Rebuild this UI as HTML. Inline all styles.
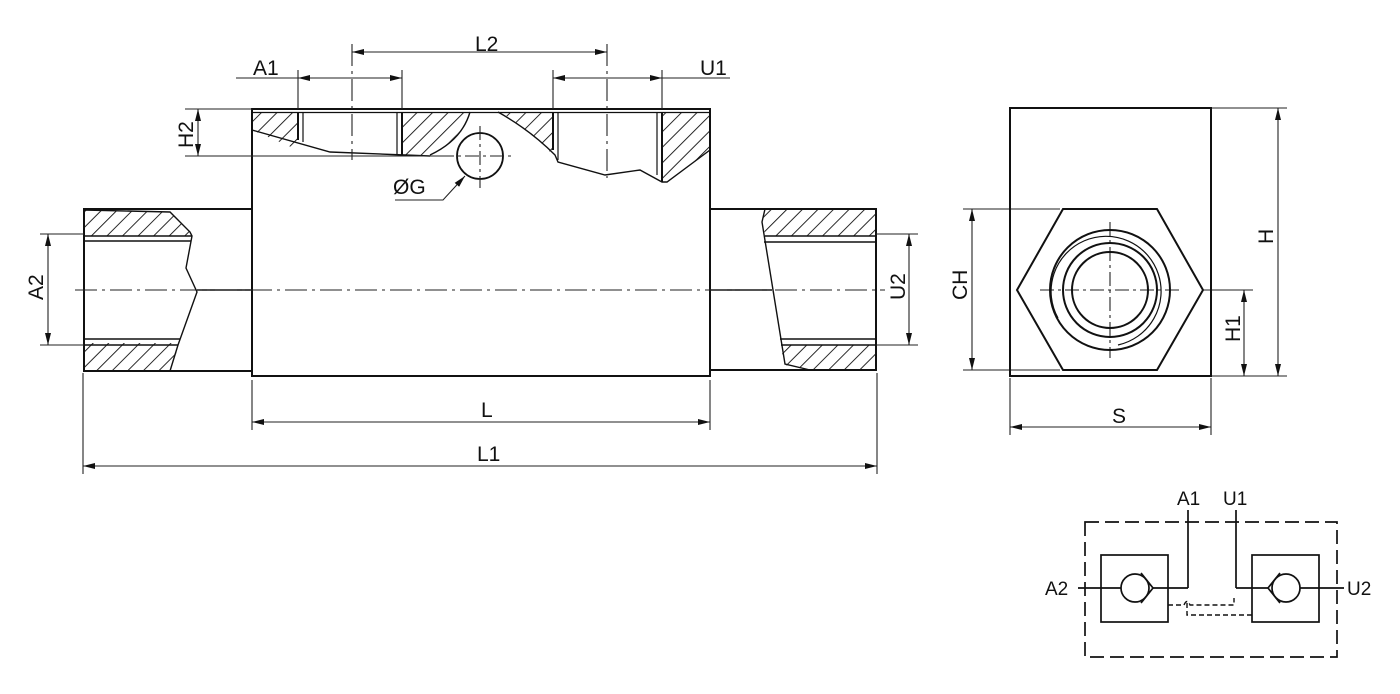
<!DOCTYPE html>
<html><head><meta charset="utf-8"><style>
html,body{margin:0;padding:0;background:#fff;}
svg{display:block;}
text{font-family:"Liberation Sans",sans-serif;fill:#111;}
</style></head><body>
<svg width="1400" height="694" viewBox="0 0 1400 694" xmlns="http://www.w3.org/2000/svg">
<defs>
<pattern id="h" patternUnits="userSpaceOnUse" width="11" height="11" patternTransform="rotate(45)">
<line x1="0" y1="0" x2="0" y2="11" stroke="#111" stroke-width="1.8"/>
</pattern>
<marker id="a" viewBox="0 0 12 6" refX="12" refY="3" markerWidth="12" markerHeight="6" orient="auto-start-reverse" markerUnits="userSpaceOnUse">
<path d="M0,0 L12,3 L0,6 z" fill="#111"/>
</marker>
</defs>
<g fill="none" stroke="#111" stroke-width="2">
<path d="M252,112 L298,112 L298,150 L252,130 Z" fill="url(#h)" stroke="none"/>
<path d="M402,112 L470,112 Q460,140 430,155 L402,155 Z" fill="url(#h)" stroke="none"/>
<path d="M500,112 L553,112 L553,155 Q530,130 500,112 Z" fill="url(#h)" stroke="none"/>
<path d="M662,112 L710,112 L710,150 L667,182 L662,180 Z" fill="url(#h)" stroke="none"/>
<path d="M84,210 L170,212 L190,232 L190,236 L84,236 Z" fill="url(#h)" stroke="none"/>
<path d="M84,343 L180,343 L170,370 L84,370 Z" fill="url(#h)" stroke="none"/>
<path d="M762,210 L876,210 L876,236 L765,236 Z" fill="url(#h)" stroke="none"/>
<path d="M780,345 L876,345 L876,370 L810,370 L785,365 Z" fill="url(#h)" stroke="none"/>
<rect x="252" y="109" width="458" height="267"/>
<line x1="252" y1="112.5" x2="710" y2="112.5" stroke-width="1.2"/>
<path d="M252,130 L330,152 L405,155 L430,156" stroke-width="1.4"/>
<line x1="298" y1="112" x2="298" y2="140"/><line x1="303" y1="112" x2="303" y2="142" stroke-width="1.2"/>
<line x1="397" y1="112" x2="397" y2="155" stroke-width="1.2"/><line x1="402" y1="112" x2="402" y2="155"/>
<path d="M470,112 Q462,140 430,155" stroke-width="1.4"/>
<path d="M498,112 Q530,130 555,155 L558,162 L605,175 L640,170 L662,182 L667,182 L710,150" stroke-width="1.4"/>
<line x1="553" y1="112" x2="553" y2="150"/><line x1="558" y1="112" x2="558" y2="160" stroke-width="1.2"/>
<line x1="657" y1="112" x2="657" y2="175" stroke-width="1.2"/><line x1="662" y1="112" x2="662" y2="182"/>
<path d="M252,209 L84,209 L84,371 L252,371" />
<path d="M84,210 L170,212 L190,232 L192,236 L186,268 L197,292 L178,345 L170,371" stroke-width="1.4"/>
<line x1="84" y1="236" x2="192" y2="236" stroke-width="1.4"/><line x1="84" y1="241" x2="191" y2="241" stroke-width="1.4"/>
<line x1="84" y1="339" x2="180" y2="339" stroke-width="1.4"/><line x1="84" y1="345" x2="178" y2="345" stroke-width="1.4"/>
<line x1="197" y1="290" x2="252" y2="290" stroke-width="1.4"/>
<path d="M710,209 L876,209 L876,370 L710,370"/>
<path d="M765,209 L762,222 L785,364 L810,370" stroke-width="1.4"/>
<line x1="765" y1="236" x2="876" y2="236" stroke-width="1.4"/><line x1="764" y1="242" x2="876" y2="242" stroke-width="1.4"/>
<line x1="780" y1="339" x2="876" y2="339" stroke-width="1.4"/><line x1="781" y1="345" x2="876" y2="345" stroke-width="1.4"/>
<line x1="710" y1="290" x2="772" y2="290" stroke-width="1.4"/>
<circle cx="480" cy="156" r="23" stroke-width="1.8"/>
</g>
<g fill="none" stroke="#222" stroke-width="1.1">
<line x1="75" y1="290" x2="885" y2="290" stroke-dasharray="22,5,3,5"/>
<line x1="352" y1="44" x2="352" y2="160" stroke-dasharray="22,5,3,5"/>
<line x1="607" y1="44" x2="607" y2="178" stroke-dasharray="22,5,3,5"/>
<line x1="440" y1="156" x2="515" y2="156" stroke-dasharray="14,4,3,4"/>
<line x1="480" y1="126" x2="480" y2="188" stroke-dasharray="14,4,3,4"/>
<line x1="185" y1="156" x2="440" y2="156"/>
<line x1="185" y1="109" x2="252" y2="109"/>
<line x1="352" y1="52" x2="607" y2="52" marker-start="url(#a)" marker-end="url(#a)"/>
<line x1="298" y1="70" x2="298" y2="109"/><line x1="402" y1="70" x2="402" y2="109"/>
<line x1="236" y1="78" x2="298" y2="78"/>
<line x1="298" y1="78" x2="402" y2="78" marker-start="url(#a)" marker-end="url(#a)"/>
<line x1="553" y1="70" x2="553" y2="109"/><line x1="662" y1="70" x2="662" y2="109"/>
<line x1="553" y1="78" x2="662" y2="78" marker-start="url(#a)" marker-end="url(#a)"/>
<line x1="662" y1="78" x2="730" y2="78"/>
<line x1="198" y1="109" x2="198" y2="156" marker-start="url(#a)" marker-end="url(#a)"/>
<path d="M395,200 L443,200 L465,176" marker-end="url(#a)"/>
<line x1="40" y1="234" x2="84" y2="234"/><line x1="40" y1="345" x2="84" y2="345"/>
<line x1="48" y1="234" x2="48" y2="345" marker-start="url(#a)" marker-end="url(#a)"/>
<line x1="876" y1="234" x2="918" y2="234"/><line x1="876" y1="345" x2="918" y2="345"/>
<line x1="909" y1="234" x2="909" y2="345" marker-start="url(#a)" marker-end="url(#a)"/>
<line x1="252" y1="380" x2="252" y2="430"/><line x1="710" y1="380" x2="710" y2="430"/>
<line x1="252" y1="422" x2="710" y2="422" marker-start="url(#a)" marker-end="url(#a)"/>
<line x1="83" y1="373" x2="83" y2="474"/><line x1="877" y1="373" x2="877" y2="474"/>
<line x1="83" y1="466" x2="877" y2="466" marker-start="url(#a)" marker-end="url(#a)"/>
<line x1="1211" y1="108" x2="1287" y2="108"/><line x1="1211" y1="376" x2="1287" y2="376"/>
<line x1="1278" y1="108" x2="1278" y2="376" marker-start="url(#a)" marker-end="url(#a)"/>
<line x1="1203" y1="290" x2="1253" y2="290"/>
<line x1="1244" y1="290" x2="1244" y2="376" marker-start="url(#a)" marker-end="url(#a)"/>
<line x1="963" y1="209" x2="1060" y2="209"/><line x1="963" y1="370" x2="1060" y2="370"/>
<line x1="972" y1="209" x2="972" y2="370" marker-start="url(#a)" marker-end="url(#a)"/>
<line x1="1010" y1="378" x2="1010" y2="435"/><line x1="1211" y1="378" x2="1211" y2="435"/>
<line x1="1010" y1="427" x2="1211" y2="427" marker-start="url(#a)" marker-end="url(#a)"/>
<line x1="1040" y1="290" x2="1180" y2="290" stroke-dasharray="14,4,3,4"/>
<line x1="1110" y1="222" x2="1110" y2="358" stroke-dasharray="14,4,3,4"/>
</g>
<g fill="none" stroke="#111" stroke-width="2">
<rect x="1010" y="108" width="201" height="268"/>
<polygon points="1017,290 1063,209 1157,209 1203,290 1157,370 1063,370"/>
<circle cx="1110" cy="290" r="60"/>
<path d="M1058,318 A55,55 0 1 1 1118,345" stroke-width="1.2"/>
<circle cx="1110" cy="290" r="47"/>
<circle cx="1110" cy="290" r="38"/>
</g>
<g fill="none" stroke="#111" stroke-width="1.7">
<rect x="1085" y="522" width="252" height="135" stroke-dasharray="14,6"/>
<rect x="1101" y="555" width="67" height="67"/>
<rect x="1252" y="555" width="67" height="67"/>
<line x1="1078" y1="588" x2="1121" y2="588"/>
<circle cx="1135" cy="588" r="14"/>
<path d="M1141,573 L1153,588 L1141,603"/>
<line x1="1153" y1="588" x2="1188" y2="588"/>
<line x1="1188" y1="510" x2="1188" y2="588"/>
<line x1="1236" y1="510" x2="1236" y2="588"/>
<line x1="1236" y1="588" x2="1268" y2="588"/>
<path d="M1280,573 L1268,588 L1280,603"/>
<circle cx="1286" cy="588" r="14"/>
<line x1="1300" y1="588" x2="1344" y2="588"/>
<path d="M1168,605 L1184,605 Q1187,598 1190,605 L1234,605 L1234,598" stroke-dasharray="5,3" stroke-width="1.4"/>
<path d="M1187,603 L1187,615 L1252,615" stroke-dasharray="5,3" stroke-width="1.4"/>
</g>
<g font-size="21">
<text x="253" y="75">A1</text>
<text x="475" y="51">L2</text>
<text x="700" y="75">U1</text>
<text x="393" y="194">ØG</text>
<text x="481" y="417">L</text>
<text x="477" y="461">L1</text>
<text x="1112" y="423">S</text>
<text transform="translate(193,148) rotate(-90)">H2</text>
<text transform="translate(43,300) rotate(-90)">A2</text>
<text transform="translate(905,300) rotate(-90)">U2</text>
<text transform="translate(967,300) rotate(-90)">CH</text>
<text transform="translate(1240,342) rotate(-90)">H1</text>
<text transform="translate(1273,244) rotate(-90)">H</text>
<text x="1177" y="505" font-size="19">A1</text>
<text x="1223" y="505" font-size="19">U1</text>
<text x="1045" y="595" font-size="19">A2</text>
<text x="1347" y="595" font-size="19">U2</text>
</g>
</svg>
</body></html>
